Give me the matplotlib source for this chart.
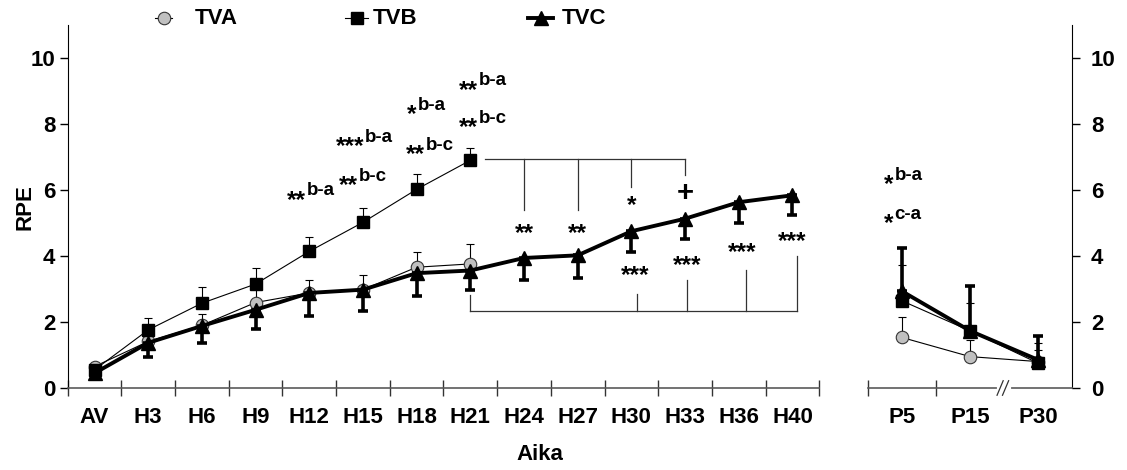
import numpy as np
import matplotlib
matplotlib.use("Agg")
import matplotlib.pyplot as plt
from matplotlib.lines import Line2D

plt.rcParams["font.family"] = ["Liberation Sans", "DejaVu Sans"]
plt.rcParams["font.weight"] = "bold"

# exercise phase
hours = ["AV", "H3", "H6", "H9", "H12", "H15", "H18", "H21",
         "H24", "H27", "H30", "H33", "H36", "H40"]
tva = [0.65, 1.41, 1.90, 2.59, 2.88, 2.98, 3.66, 3.76]
tva_sd = [0.10, 0.35, 0.35, 0.40, 0.38, 0.43, 0.45, 0.59]
tvb = [0.55, 1.76, 2.57, 3.15, 4.14, 5.02, 6.02, 6.90]
tvb_sd = [0.10, 0.37, 0.48, 0.49, 0.43, 0.44, 0.47, 0.38]
tvc = [0.45, 1.37, 1.88, 2.37, 2.88, 2.98, 3.48, 3.56,
       3.94, 4.02, 4.75, 5.13, 5.63, 5.84]
tvc_sd = [0.11, 0.42, 0.52, 0.59, 0.71, 0.66, 0.68, 0.60,
          0.66, 0.69, 0.64, 0.60, 0.63, 0.60]

# recovery
post = ["P5", "P15", "P30"]
tva_p = [1.53, 0.95, 0.80]
tva_p_sd = [0.61, 0.51, 0.35]
tvb_p = [2.64, 1.73, 0.75]
tvb_p_sd = [1.08, 0.86, 0.60]
tvc_p = [2.93, 1.73, 0.85]
tvc_p_sd = [1.32, 1.37, 0.73]

W, H = 1127, 470
fig = plt.figure(figsize=(W / 100, H / 100), dpi=100)
axL = fig.add_axes([67.7 / W, 0.1745, 751.6 / W, 0.7723])
axR = fig.add_axes([868 / W, 0.1745, 204.3 / W, 0.7723])

AXGRAY = "#5a5a5a"
LBL = 16


def draw_series(ax, a, a_sd, b, b_sd, c, c_sd, c_down):
    xa = np.arange(len(a))
    ax.errorbar(xa, a, yerr=[np.zeros(len(a)), a_sd], fmt="none", ecolor="black",
                elinewidth=0.8, capsize=3, capthick=0.8, zorder=2)
    ax.plot(xa, a, color="black", lw=0.8, marker="o", ms=9, mfc="#c0c0c0",
            mec="#333333", mew=0.8, zorder=3)
    xc = np.arange(len(c))
    err = [c_sd, np.zeros(len(c))] if c_down else [np.zeros(len(c)), c_sd]
    ax.errorbar(xc, c, yerr=err, fmt="none", ecolor="black", elinewidth=2.6,
                capsize=3.5, capthick=2.6, zorder=4)
    ax.plot(xc, c, color="black", lw=2.8, marker="^", ms=9.5, mfc="black",
            mec="black", zorder=5)
    xb = np.arange(len(b))
    ax.errorbar(xb, b, yerr=[np.zeros(len(b)), b_sd], fmt="none", ecolor="black",
                elinewidth=0.8, capsize=3, capthick=0.8, zorder=6)
    ax.plot(xb, b, color="black", lw=0.8, marker="s", ms=8, mfc="black",
            mec="black", zorder=7)


draw_series(axL, tva, tva_sd, tvb, tvb_sd, tvc, tvc_sd, True)
draw_series(axR, tva_p, tva_p_sd, tvb_p, tvb_p_sd, tvc_p, tvc_p_sd, False)

for ax, n in ((axL, len(hours)), (axR, len(post))):
    ax.set_ylim(0, 11)
    ax.set_xlim(-0.5, n - 0.5)
    ax.spines["top"].set_visible(False)
    ax.spines["bottom"].set_color(AXGRAY)
    ax.spines["bottom"].set_linewidth(1.2)
    ax.set_xticks(np.arange(n), minor=True)
    ax.tick_params(axis="x", which="minor", length=0, pad=14, labelsize=LBL)
    ax.tick_params(axis="x", which="major", direction="inout", length=11,
                   width=1, color="#333333", labelbottom=False)
    ax.set_yticks(np.arange(0, 11, 2))
    ax.patch.set_visible(False)

axL.set_xticks(np.arange(-0.5, len(hours)))
axL.set_xticklabels(hours, minor=True, fontweight="bold")
axL.spines["right"].set_visible(False)
axL.tick_params(axis="y", direction="out", length=5.5, width=1, pad=3.5,
                labelsize=LBL)
for t in axL.get_yticklabels():
    t.set_fontweight("bold")

axR.set_xticks([-0.5, 0.5])
axR.set_xticklabels(post, minor=True, fontweight="bold")
axR.spines["left"].set_visible(False)
axR.yaxis.tick_right()
axR.tick_params(axis="y", direction="out", length=5.5, width=1, pad=8,
                labelsize=LBL)
for t in axR.get_yticklabels():
    t.set_fontweight("bold")

# axis break between P15 and P30
bx = 1.5
axR.plot([bx - 0.07, bx + 0.07], [0, 0], color="white", lw=3,
         transform=axR.get_xaxis_transform(), clip_on=False, zorder=8)
for dx in (-0.06, 0.02):
    axR.plot([bx + dx - 0.045, bx + dx + 0.045], [-0.02, 0.02], color="#333333",
             lw=0.9, transform=axR.get_xaxis_transform(), clip_on=False, zorder=9)

# significance labels: stars followed by a raised group comparison
STAR = 17.5


def sig(ax, x, y, stars, sup):
    ax.annotate(stars, (x, y), xytext=(0, -11.5), textcoords="offset points",
                ha="right", va="baseline", fontsize=STAR, fontweight="bold")
    ax.annotate(sup, (x, y), xytext=(0.5, 0), textcoords="offset points",
                ha="left", va="center", fontsize=13.5, fontweight="bold")


def stars_at(ax, x, y, stars):
    ax.annotate(stars, (x, y), xytext=(0, -9), textcoords="offset points",
                ha="center", va="baseline", fontsize=STAR, fontweight="bold")


sig_x = [3.94, 5.02, 4.91, 6.00, 6.16, 7.14, 7.14]
sig_y = [5.98, 7.60, 6.42, 8.57, 7.36, 9.31, 8.18]
sig_stars = ["**", "***", "**", "*", "**", "**", "**"]
sig_sup = ["b-a", "b-a", "b-c", "b-a", "b-c", "b-a", "b-c"]
for x, y, s, t in zip(sig_x, sig_y, sig_stars, sig_sup):
    sig(axL, x, y, s, t)

sig(axR, -0.12, 6.44, "*", "b-a")
sig(axR, -0.12, 5.26, "*", "c-a")

# within-group comparisons against H21
top_x = [8, 9, 10, 11]
top_drop = [5.39, 5.39, 6.10, 6.44]
top_y = 6.95
axL.plot([7.27, 11], [top_y, top_y], color="#333333", lw=0.9)
for x, y in zip(top_x, top_drop):
    axL.plot([x, x], [top_y, y], color="#333333", lw=0.9)

up_stars_x = [8, 9, 10]
up_stars_y = [4.86, 4.86, 5.71]
up_stars = ["**", "**", "*"]
for x, y, s in zip(up_stars_x, up_stars_y, up_stars):
    stars_at(axL, x, y, s)
axL.text(11, 5.9, "+", ha="center", va="center", fontsize=21, fontweight="bold")

low_x = [10.1, 11.03, 12.13, 13.08]
low_rise = [2.86, 3.26, 3.59, 3.99]
low_y = 2.34
axL.plot([7, 13.08], [low_y, low_y], color="#333333", lw=0.9)
axL.plot([7, 7], [low_y, 2.83], color="#333333", lw=0.9)
for x, y in zip(low_x, low_rise):
    axL.plot([x, x], [low_y, y], color="#333333", lw=0.9)

low_stars_x = [10.07, 11.04, 12.06, 12.99]
low_stars_y = [3.59, 3.89, 4.29, 4.62]
for x, y in zip(low_stars_x, low_stars_y):
    stars_at(axL, x, y, "***")

# legend along the top edge
ly = 1 - 18 / H
items = [
    (155, 172, dict(marker="o", ms=9, mfc="#c0c0c0", mec="#333333", mew=0.8), 0.8, 195, "TVA"),
    (345, 368, dict(marker="s", ms=8, mfc="black", mec="black"), 0.8, 373, "TVB"),
    (528, 553, dict(marker="^", ms=9.5, mfc="black", mec="black"), 2.8, 562, "TVC"),
]
for x0, x1, mk, lw, tx, name in items:
    fig.add_artist(Line2D([x0 / W, x1 / W], [ly, ly], color="black", lw=lw,
                          transform=fig.transFigure))
    fig.add_artist(Line2D([(x0 + x1) / 2 / W], [ly], color="black", lw=0,
                          transform=fig.transFigure, **mk))
    fig.text(tx / W, ly, name, ha="left", va="center", fontsize=LBL,
             fontweight="bold")

fig.text(540 / W, 1 - 455 / H, "Aika", ha="center", va="center", fontsize=LBL,
         fontweight="bold")
fig.text(25 / W, 1 - 207 / H, "RPE", ha="center", va="center", rotation=90,
         fontsize=LBL, fontweight="bold")

fig.savefig("out.png", dpi=100)
